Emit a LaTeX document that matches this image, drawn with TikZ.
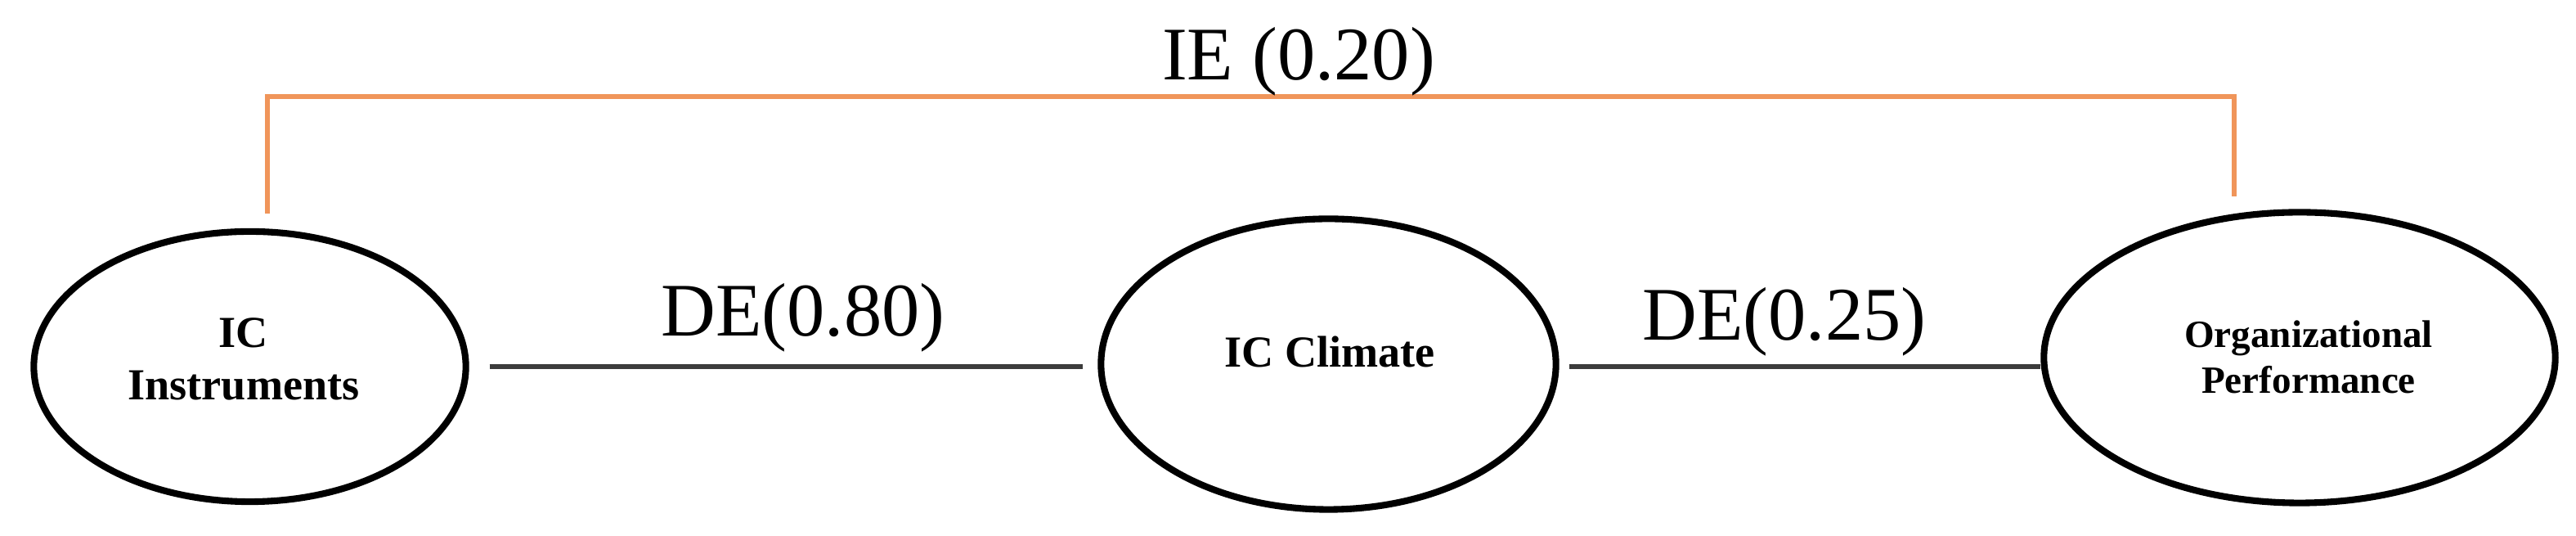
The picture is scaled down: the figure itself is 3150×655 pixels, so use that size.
\documentclass[tikz,border=0pt]{standalone}
\usepackage{fontspec}
\setmainfont{Liberation Serif}
\usetikzlibrary{shapes.geometric,calc}
\definecolor{iecol}{HTML}{F0955A}
\definecolor{decol}{HTML}{3C3C3C}
\begin{document}
\begin{tikzpicture}[x=0.01cm,y=0.01cm,
  construct/.style={draw=black, line width=2.3pt, ellipse, inner sep=0pt},
  nodetext/.style={font=\fontsize{15.4}{18.2}\selectfont\bfseries, align=center, inner sep=0pt},
  smalltext/.style={font=\fontsize{13.4}{15.9}\selectfont\bfseries, align=center, inner sep=0pt},
  de/.style={draw=decol, line width=1.7pt},
  ie/.style={draw=iecol, line width=1.7pt, line join=miter},
  effect/.style={font=\fontsize{26.3}{30}\selectfont, inner sep=0pt, anchor=base}]
\useasboundingbox (0,0) rectangle (3150,655);
% constructs
\node[construct, minimum width=5.28cm, minimum height=3.30cm] (e1) at (305.5,207) {};
\node[construct, minimum width=5.56cm, minimum height=3.55cm] (e2) at (1624.5,210) {};
\node[construct, minimum width=6.25cm, minimum height=3.55cm] (e3) at (2812,218) {};
\node[nodetext] (t1) at (298,216.5) {IC\\Instruments};
\node[nodetext] (t2) at (1626,225.5) {IC Climate};
\node[smalltext] (t3) at (2823,218.5) {Organizational\\Performance};
% direct effects
\draw[de, shorten <=0.25cm, shorten >=0.18cm] (e1.east) -- (e2.west |- e1.east);
\draw[de, shorten <=0.12cm] (e2.east |- e1.east) -- (e3.west |- e1.east);
\node[effect] (l1) at (982,244) {DE(0.80)};
\node[effect] (l2) at (2182,239) {DE(0.25)};
% indirect effect
\draw[ie] ($(e1.north)+(21.5,18)$) |- ($(e3.north)+(-80,137)$) -- ($(e3.north)+(-80,15)$);
\node[effect] (l3) at (1588,557) {IE (0.20)};
\end{tikzpicture}
\end{document}
